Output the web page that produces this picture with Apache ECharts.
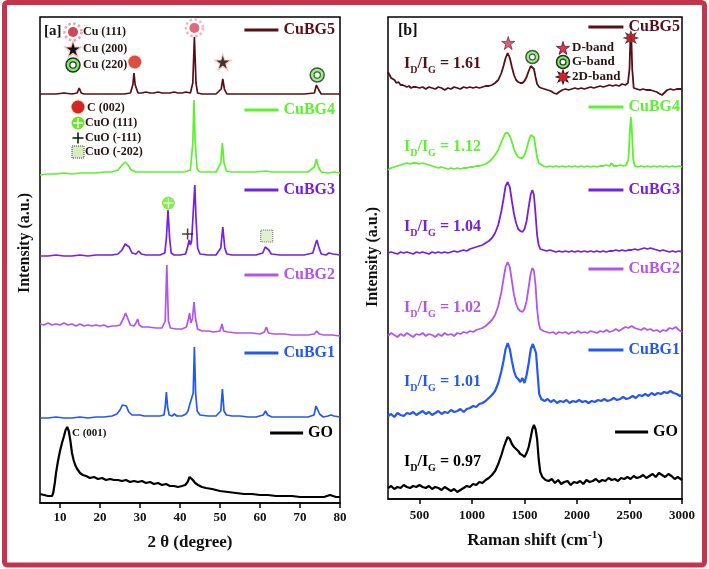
<!DOCTYPE html>
<html><head><meta charset="utf-8">
<script src="https://cdn.jsdelivr.net/npm/echarts@6/dist/echarts.min.js"></script>
<style>html,body{margin:0;padding:0;background:#fff}#c{width:709px;height:569px}</style>
</head><body><div id="c"></div>
<script>
// ---------- DATA ----------
const xrdTicks = [10,20,30,40,50,60,70,80];
const ramanTicks = [500,1000,1500,2000,2500,3000];
const sampleNames = ['CuBG5','CuBG4','CuBG3','CuBG2','CuBG1','GO'];
const ratioValues = ['1.61','1.12','1.04','1.02','1.01','0.97'];

// XRD traces (2θ, stacked intensity a.u.)
const xrdGO = [[5,9],[5.5,10],[6,8],[6.5,9],[7,7],[7.5,8],[8,7],[8.3,10],[8.7,20],[9,30],[9.5,42],[10,52],[10.5,60],[11,67],[11.4,73],[11.8,76],[12.2,72],[12.6,62],[13,50],[13.4,43],[13.8,38],[14.3,34],[15,30],[15.7,28],[16.5,27],[17.5,25],[18.5,26],[19.5,24],[20.5,25],[21.5,23],[22.5,24],[23.5,23],[24,25],[24.5,23],[25.5,22],[26.5,23],[27.5,21],[28.5,22],[29.5,21],[30.5,22],[31.5,20],[32.5,21],[33.5,19],[34.5,20],[35.5,18],[36.5,19],[37.5,17],[38.5,17],[39.5,16],[40.5,17],[41.3,18],[41.9,21],[42.4,26],[42.8,27],[43.2,23],[43.8,20],[44.5,18],[45.5,16],[46.5,15],[48,14],[50,12],[52,11],[54,10],[56,9],[58,9],[60,8],[62,8],[64,7],[66,7],[68,7],[70,6],[72,6],[74,6],[76,6],[77.5,8],[78,7],[79,6],[80,6]];
const xrdCuBG1 = [[5,85],[7,85],[9,86],[11,85],[13,85],[15,86],[17,85],[19,86],[21,86],[23,87],[24.2,89],[25,93],[25.6,98],[26.1,100],[26.6,97],[27.2,91],[28,88],[29,88],[29.5,90],[30,88],[31,87],[33,87],[35,87],[36,88],[36.3,96],[36.6,111],[36.9,96],[37.3,88],[38,87],[38.6,89],[39.2,87],[40.5,87],[41.5,89],[42,92],[42.4,98],[42.8,96],[43.3,110],[43.6,156],[43.9,110],[44.3,92],[45,88],[47,87],[49,87],[50.2,92],[50.6,114],[51,92],[51.6,88],[53,87],[55,87],[57,86],[59,86],[60.8,88],[61.4,92],[61.9,88],[63,86],[66,86],[69,86],[72,86],[73.5,88],[74,97],[74.4,97],[74.9,89],[75.8,86],[77,87],[77.7,88],[78.5,87],[80,86]];
const xrdCuBG2 = [[5,179],[6,178],[7,180],[8,178],[9,179],[10,178],[11,180],[12,178],[13,179],[14,177],[15,179],[16,177],[17,178],[18,177],[19,178],[20,177],[21,178],[22,176],[23,177],[24,177],[25,178],[25.8,184],[26.4,190],[27,184],[27.6,178],[28.5,177],[29,180],[29.4,184],[29.8,178],[30.5,176],[32,176],[34,175],[35.5,175],[36.3,182],[36.7,238],[37.1,182],[37.6,175],[39,174],[40.5,174],[41.6,176],[42.1,184],[42.4,190],[42.7,180],[43.1,184],[43.5,201],[43.9,184],[44.4,174],[45.5,172],[47,172],[48.5,171],[50,172],[50.5,179],[50.9,172],[52,171],[54,170],[56,170],[58,170],[60,169],[61.1,171],[61.6,176],[62.1,170],[63.5,169],[66,169],[68,168],[70,168],[72,168],[73.6,169],[74.2,172],[74.8,169],[76,168],[78,168],[80,167]];
const xrdCuBG3 = [[5,247],[7,247],[9,248],[11,247],[13,247],[15,248],[17,247],[19,248],[21,248],[23,248],[24.5,249],[25.5,253],[26.3,259],[26.8,261],[27.3,256],[28,250],[29,249],[29.7,252],[30.3,249],[31.5,248],[33,248],[35,248],[36.2,250],[36.6,265],[37,293],[37.4,265],[37.8,250],[38.5,248],[40,248],[41.4,249],[41.9,256],[42.3,263],[42.6,258],[42.9,262],[43.3,290],[43.7,318],[44,285],[44.4,255],[45,249],[47,248],[49,248],[50.2,255],[50.7,276],[51.2,255],[51.7,249],[53,248],[56,248],[59,248],[60.7,250],[61.3,256],[61.7,258],[62.2,253],[62.8,249],[65,248],[68,248],[71,248],[73.2,250],[73.8,258],[74.2,263],[74.7,256],[75.3,249],[76.5,248],[77.2,250],[77.7,252],[78.3,249],[80,248]];
const xrdCuBG4 = [[5,328],[7,329],[9,329],[11,330],[13,329],[15,330],[17,330],[19,330],[21,331],[23,331],[24.5,333],[25.5,338],[26.3,341],[27,338],[27.8,333],[29,331],[31,331],[33,331],[35,331],[37,331],[39,331],[41,331],[42.6,333],[43.2,360],[43.5,403],[43.8,360],[44.3,334],[45,331],[47,331],[49,331],[50.2,340],[50.6,360],[51,340],[51.6,332],[53,331],[56,331],[59,331],[61.5,332],[63,331],[66,331],[69,331],[72,331],[73.6,336],[74.1,344],[74.6,336],[75.3,331],[77,330],[78.5,331],[80,330]];
const xrdCuBG5 = [[5,409],[7,409],[9,409],[11,410],[13,409],[14.3,410],[14.8,415],[15.3,410],[16,409],[18,409],[20,409],[22,409],[24,409],[26,409],[27.6,410],[28.2,418],[28.5,430],[28.8,418],[29.5,410],[30.5,410],[31.5,411],[32,412],[32.5,410],[33.5,410],[34.5,411],[35,411],[35.5,410],[36.5,410],[37.5,410],[38,411],[38.5,411],[39.5,410],[40.5,410],[41.5,411],[42,412],[42.6,410],[43.2,420],[43.6,466],[44,420],[44.4,410],[45.5,409],[47,409],[49,409],[50.3,414],[50.7,424],[51.1,414],[51.7,409],[53,409],[56,409],[59,409],[62,409],[65,409],[68,409],[71,409],[73.6,410],[74.1,418],[74.3,420],[74.7,413],[75.3,409],[77,409],[80,409]];

// Raman traces (shift cm-1, stacked intensity a.u.)
const ramGO = [[200,11],[230,13],[260,10],[290,12],[320,11],[350,14],[380,12],[410,11],[440,13],[470,12],[500,14],[530,12],[560,11],[590,13],[620,10],[650,12],[680,11],[710,9],[740,12],[770,10],[800,8],[830,10],[860,7],[890,9],[920,11],[950,13],[980,12],[1010,15],[1040,14],[1070,17],[1100,16],[1130,19],[1160,21],[1190,24],[1220,28],[1250,35],[1280,44],[1300,51],[1320,57],[1340,62],[1360,60],[1380,55],[1400,52],[1420,50],[1440,48],[1460,45],[1480,44],[1500,42],[1520,46],[1540,52],[1560,62],[1575,70],[1590,74],[1605,70],[1620,60],[1635,40],[1650,27],[1670,22],[1700,19],[1730,18],[1760,20],[1790,16],[1820,19],[1850,15],[1880,17],[1910,18],[1940,14],[1970,17],[2000,16],[2030,18],[2060,15],[2090,19],[2120,17],[2150,18],[2180,20],[2210,17],[2240,19],[2270,18],[2300,21],[2330,19],[2360,20],[2390,18],[2420,21],[2450,20],[2480,22],[2510,20],[2540,23],[2570,21],[2600,22],[2630,24],[2660,21],[2690,23],[2720,25],[2750,22],[2780,26],[2810,24],[2840,22],[2870,25],[2900,23],[2930,20],[2960,22],[3000,19]];
const ramCuBG1 = [[200,83],[230,85],[260,82],[290,86],[320,84],[350,83],[380,86],[410,85],[440,87],[470,84],[500,86],[530,88],[560,85],[590,87],[620,84],[650,86],[680,88],[710,85],[740,87],[770,86],[800,89],[830,87],[860,88],[890,90],[920,87],[950,90],[980,91],[1010,93],[1040,92],[1070,95],[1100,96],[1130,98],[1160,101],[1190,104],[1220,108],[1250,116],[1280,128],[1300,138],[1320,150],[1340,156],[1360,150],[1380,138],[1400,128],[1420,122],[1440,120],[1460,117],[1480,121],[1500,116],[1520,124],[1540,136],[1560,150],[1580,155],[1595,154],[1610,146],[1625,125],[1640,105],[1660,100],[1690,98],[1720,100],[1750,97],[1780,99],[1810,96],[1840,98],[1870,97],[1900,99],[1930,96],[1960,98],[1990,97],[2020,99],[2050,97],[2080,98],[2110,96],[2140,98],[2170,97],[2200,99],[2230,98],[2260,100],[2290,98],[2320,99],[2350,101],[2380,99],[2410,100],[2440,102],[2470,100],[2500,101],[2530,103],[2560,101],[2590,104],[2620,103],[2650,105],[2680,103],[2710,106],[2740,104],[2770,106],[2800,105],[2830,107],[2860,106],[2890,108],[2920,106],[2950,105],[2980,103],[3000,104]];
const ramCuBG2 = [[200,163],[230,166],[260,164],[290,162],[320,165],[350,163],[380,166],[410,164],[440,162],[470,165],[500,164],[530,166],[560,163],[590,165],[620,164],[650,162],[680,165],[710,163],[740,166],[770,164],[800,165],[830,163],[860,166],[890,165],[920,167],[950,166],[980,168],[1010,167],[1040,169],[1070,170],[1100,171],[1130,173],[1160,176],[1190,179],[1220,184],[1250,193],[1280,207],[1300,220],[1320,232],[1340,237],[1360,232],[1380,218],[1400,204],[1420,195],[1440,190],[1460,188],[1480,187],[1500,190],[1520,198],[1540,212],[1560,226],[1575,231],[1590,228],[1605,214],[1620,190],[1635,176],[1650,170],[1680,168],[1710,167],[1740,166],[1770,167],[1800,165],[1830,167],[1860,166],[1890,167],[1920,165],[1950,167],[1980,166],[2010,168],[2040,166],[2070,167],[2100,166],[2130,168],[2160,167],[2190,166],[2220,168],[2250,167],[2280,169],[2310,167],[2340,168],[2370,170],[2400,168],[2430,170],[2460,172],[2490,171],[2520,173],[2550,171],[2580,170],[2610,169],[2640,171],[2670,169],[2700,170],[2730,168],[2760,169],[2790,167],[2820,169],[2850,168],[2880,171],[2910,170],[2940,172],[2970,169],[3000,167]];
const ramCuBG3 = [[200,246],[230,247],[260,246],[290,245],[320,247],[350,246],[380,247],[410,246],[440,245],[470,247],[500,246],[530,247],[560,246],[590,245],[620,247],[650,246],[680,247],[710,246],[740,247],[770,246],[800,247],[830,248],[860,247],[890,248],[920,249],[950,248],[980,250],[1010,251],[1040,252],[1070,253],[1100,254],[1130,256],[1160,258],[1190,261],[1220,266],[1250,274],[1280,288],[1300,300],[1320,313],[1340,317],[1360,312],[1380,298],[1400,285],[1420,276],[1440,270],[1460,268],[1480,267],[1500,270],[1520,278],[1540,292],[1560,305],[1575,309],[1590,304],[1605,285],[1620,264],[1635,254],[1650,250],[1680,249],[1710,248],[1740,249],[1770,248],[1800,247],[1830,248],[1860,247],[1890,248],[1920,247],[1950,248],[1980,247],[2010,248],[2040,247],[2070,248],[2100,247],[2130,248],[2160,247],[2190,248],[2220,247],[2250,248],[2280,247],[2310,248],[2340,248],[2370,249],[2400,248],[2430,249],[2460,248],[2490,249],[2520,249],[2550,250],[2580,249],[2610,250],[2640,251],[2670,250],[2700,251],[2730,250],[2760,249],[2790,248],[2820,249],[2850,248],[2880,247],[2910,248],[2940,247],[2970,248],[3000,247]];
const ramCuBG4 = [[200,329],[230,331],[260,332],[290,333],[320,334],[350,335],[380,336],[410,335],[440,336],[470,336],[500,335],[530,336],[560,335],[590,334],[620,333],[650,332],[680,331],[710,332],[740,331],[770,330],[800,331],[830,330],[860,331],[890,330],[920,331],[950,331],[980,332],[1010,332],[1040,333],[1070,333],[1100,334],[1130,335],[1160,337],[1190,340],[1220,344],[1250,349],[1280,357],[1300,362],[1320,366],[1340,366],[1360,363],[1380,357],[1400,350],[1420,345],[1440,342],[1460,341],[1480,341],[1500,344],[1520,350],[1540,358],[1560,364],[1575,366],[1590,362],[1605,352],[1620,342],[1635,336],[1650,334],[1680,333],[1710,332],[1740,333],[1770,332],[1800,333],[1830,332],[1860,333],[1890,332],[1920,333],[1950,332],[1980,333],[2010,332],[2040,333],[2070,332],[2100,333],[2130,332],[2160,333],[2190,332],[2220,333],[2250,333],[2280,334],[2310,333],[2330,336],[2350,333],[2380,333],[2410,334],[2440,333],[2470,334],[2490,340],[2505,370],[2513,382],[2522,370],[2535,340],[2550,333],[2580,332],[2610,333],[2640,332],[2670,333],[2700,332],[2730,333],[2760,332],[2790,333],[2820,332],[2850,333],[2880,332],[2910,333],[2940,332],[2970,333],[3000,332]];
const ramCuBG5 = [[200,427],[215,424],[230,421],[245,420],[262,419],[280,416],[300,417],[320,414],[340,414],[360,413],[380,412],[400,413],[420,411],[440,412],[468,412],[500,411],[530,412],[560,410],[590,412],[620,411],[650,410],[680,412],[710,411],[740,409],[770,411],[800,410],[830,412],[860,411],[890,410],[920,412],[950,411],[980,412],[1010,411],[1040,412],[1070,411],[1100,412],[1130,413],[1160,413],[1190,414],[1220,416],[1250,419],[1280,426],[1300,433],[1320,441],[1340,446],[1360,441],[1380,432],[1400,424],[1420,419],[1440,417],[1460,416],[1480,416],[1500,418],[1520,422],[1540,428],[1560,433],[1575,434],[1590,430],[1605,422],[1620,415],[1640,412],[1660,411],[1690,410],[1720,409],[1750,408],[1780,406],[1805,405],[1830,407],[1860,409],[1890,410],[1920,409],[1950,410],[1980,411],[2010,410],[2040,411],[2070,410],[2100,411],[2130,412],[2160,411],[2190,412],[2220,413],[2250,412],[2280,413],[2310,414],[2340,413],[2370,414],[2400,413],[2430,415],[2460,414],[2485,416],[2500,430],[2507,455],[2513,464],[2519,455],[2526,430],[2540,411],[2570,410],[2600,409],[2630,410],[2660,409],[2700,409],[2730,408],[2760,407],[2790,405],[2810,404],[2830,406],[2860,409],[2890,410],[2920,409],[2950,410],[2980,410],[3000,410]];

// peak markers (position, height on stacked scale)
const markCu111 = [[43.6,475]];
const markCu200 = [[50.7,441]];
const markCu220 = [[74.3,428]];
const markC002 = [[28.7,441]];
const markCuO111 = [[37.1,300]];
const markCuOm111 = [[41.9,269]];
const markCuOm202 = [[61.7,267]];
const markDband = [[1345,456]];
const markGband = [[1575,442]];
const mark2Dband = [[2513,461]];

// ---------- STYLE ----------
const FONT = 'Liberation Serif';
const colors = ['#55101c','#5cf22e','#7422dc','#b056ee','#2458ee','#000000'];
const xrdData = [xrdCuBG5,xrdCuBG4,xrdCuBG3,xrdCuBG2,xrdCuBG1,xrdGO];
const ramData = [ramCuBG5,ramCuBG4,ramCuBG3,ramCuBG2,ramCuBG1,ramGO];

const star5 = 'path://M50,2 L61,37 L98,37 L68,59 L79,95 L50,73 L21,95 L32,59 L2,37 L39,37 Z';
const star8 = 'path://M100,50 L72.2,59.2 L85.4,85.4 L59.2,72.2 L50,100 L40.8,72.2 L14.6,85.4 L27.8,59.2 L0,50 L27.8,40.8 L14.6,14.6 L40.8,27.8 L50,0 L59.2,27.8 L85.4,14.6 L72.2,40.8 Z';
const plus = 'path://M43,0 H57 V43 H100 V57 H57 V100 H43 V57 H0 V43 H43 Z';

const series = [];
xrdData.forEach((d,i)=>{
  series.push({name:sampleNames[i], type:'line', xAxisIndex:0, yAxisIndex:0, data:d, showSymbol:false, silent:true,
    itemStyle:{color:colors[i]}, lineStyle:{color:colors[i], width: i===5?2.2:1.7}});
});
ramData.forEach((d,i)=>{
  series.push({name:sampleNames[i], type:'line', xAxisIndex:1, yAxisIndex:1, data:d, showSymbol:false, silent:true,
    itemStyle:{color:colors[i]}, lineStyle:{color:colors[i], width: (i===5||i===4)?2.2:1.8}});
});

function marker(id, data, ax, layers, key){
  layers.forEach((L,j)=>{
    series.push({name:id+'_'+j, type:'scatter', xAxisIndex:ax, yAxisIndex:ax, data:data, z:5+j, silent:true,
      symbol:L.symbol, symbolSize:L.size, itemStyle:L.style,
      markPoint:{silent:true, label:{show:false}, data:[{x:key[0], y:key[1], symbol:L.symbol, symbolSize:L.size, itemStyle:L.style}]}});
  });
}
const concentric = (s)=>[{symbol:'circle', size:s, style:{color:'#86e86a', borderColor:'#223322', borderWidth:1.5}},
                          {symbol:'circle', size:s*0.45, style:{color:'#ffffff', borderColor:'#223322', borderWidth:1.2}}];
marker('cu111', markCu111, 0, [
  {symbol:'circle', size:17, style:{color:'rgba(255,255,255,0)', borderColor:'#eba2b0', borderWidth:2.5, borderType:'dotted'}},
  {symbol:'circle', size:10, style:{color:'#d4455a'}}], [73,32]);
marker('cu200', markCu200, 0, [
  {symbol:star5, size:20, style:{color:'#f5b8bc'}},
  {symbol:star5, size:13, style:{color:'#141010'}}], [73,49]);
marker('cu220', markCu220, 0, concentric(14), [73,65]);
marker('c002', markC002, 0, [
  {symbol:'circle', size:15, style:{color:'#f6ecb8'}},
  {symbol:'circle', size:13, style:{color:'#d32525'}}], [78,107]);
marker('cuo111', markCuO111, 0, [
  {symbol:'circle', size:13, style:{color:'#72e030'}},
  {symbol:plus, size:10, style:{color:'rgba(255,255,255,0.85)'}}], [78,123]);
marker('cuom111', markCuOm111, 0, [
  {symbol:plus, size:11, style:{color:'#111111'}}], [78,138]);
marker('cuom202', markCuOm202, 0, [
  {symbol:'rect', size:12, style:{color:'#d8eec2', borderColor:'#444', borderWidth:1, borderType:'dotted'}}], [78,152]);
marker('dband', markDband, 1, [
  {symbol:star5, size:13, style:{color:'#d23a58', borderColor:'#5a1020', borderWidth:0.8}}], [563,48]);
marker('gband', markGband, 1, concentric(13), [563,62]);
marker('band2d', mark2Dband, 1, [
  {symbol:star8, size:17, style:{color:'#1a1a1a'}},
  {symbol:'circle', size:9, style:{color:'#d0202a'}}], [563,77]);

function legendFor(i, right, yc, w){
  return {data:[sampleNames[i]], right:right, top:yc-8, padding:0, itemWidth:w, itemHeight:3, icon:'rect',
    selectedMode:false, textStyle:{fontFamily:FONT, fontWeight:'bold', fontSize:16, lineHeight:16, color:colors[i]}};
}
const legends = [];
[30,110,190,275,353,433].forEach((y,i)=>legends.push(legendFor(i, i===5?376:374, y, i===5?33:34)));
[27,107,190,269,350,432].forEach((y,i)=>legends.push(legendFor(i, i===5?31:29, y, i===5?33:35)));

const graphic = [
  {type:'rect', shape:{x:4.5,y:2.5,width:700,height:562.5,r:3}, style:{fill:'none', stroke:'#c3344f', lineWidth:5}, z:100},
  {type:'text', x:44, y:31, style:{text:'[a]', font:'bold 15px '+FONT, fill:'#111', verticalAlign:'middle'}},
  {type:'text', x:398, y:31, style:{text:'[b]', font:'bold 16px '+FONT, fill:'#111', verticalAlign:'middle'}},
  {type:'text', x:25, y:243, rotation:Math.PI/2, style:{text:'Intensity (a.u.)', font:'bold 16px '+FONT, fill:'#111', align:'center', verticalAlign:'middle'}},
  {type:'text', x:373, y:257, rotation:Math.PI/2, style:{text:'Intensity (a.u.)', font:'bold 16px '+FONT, fill:'#111', align:'center', verticalAlign:'middle'}},
  {type:'text', x:72, y:433, style:{text:'C (001)', font:'bold 11px '+FONT, fill:'#111', verticalAlign:'middle'}},
];
[['Cu (111)',83,32],['Cu (200)',83,49],['Cu (220)',83,65],['C (002)',87,108],['CuO (111)',85,123],['CuO (-111)',85,138],['CuO (-202)',85,152]]
 .forEach(t=>graphic.push({type:'text', x:t[1], y:t[2], style:{text:t[0], font:'bold 12px '+FONT, fill:'#2a1515', verticalAlign:'middle'}}));
[['D-band',572,48],['G-band',572,62],['2D-band',572,77]]
 .forEach(t=>graphic.push({type:'text', x:t[1], y:t[2], style:{text:t[0], font:'bold 13px '+FONT, fill:'#2a1515', verticalAlign:'middle'}}));
[64,147,227,308,382,462].forEach((y,i)=>{
  const n = {fontFamily:FONT, fontWeight:'bold', fontSize:16, lineHeight:22, fill:colors[i]};
  const s = {fontFamily:FONT, fontWeight:'bold', fontSize:10, lineHeight:10, verticalAlign:'bottom', fill:colors[i]};
  graphic.push({type:'text', x:404, y:y, style:{text:'{n|I}{s|D}{n|/I}{s|G}{n| = '+ratioValues[i]+'}', rich:{n:n, s:s}, verticalAlign:'middle', fill:colors[i]}});
});

const axisCommon = {
  axisLine:{show:true, lineStyle:{color:'#000', width:1.5}},
  axisTick:{show:true, inside:false, length:5, lineStyle:{color:'#000', width:1.5}},
  splitLine:{show:false},
  nameLocation:'middle',
};
const option = {
  animation:false,
  backgroundColor:'#fff',
  grid:[
    {left:40, top:17, width:300, height:486, show:true, borderColor:'#000', borderWidth:1.5, backgroundColor:'transparent'},
    {left:388, top:17, width:294, height:482, show:true, borderColor:'#000', borderWidth:1.5, backgroundColor:'transparent'}
  ],
  xAxis:[
    Object.assign({}, axisCommon, {gridIndex:0, type:'value', min:5, max:80, name:'2 θ (degree)', nameGap:31,
      nameTextStyle:{fontFamily:FONT, fontWeight:'bold', fontSize:17, color:'#111'},
      axisTick:Object.assign({}, axisCommon.axisTick, {customValues:xrdTicks}),
      axisLabel:{customValues:xrdTicks, formatter:v=>String(v), margin:8, fontFamily:FONT, fontWeight:'bold', fontSize:13, color:'#111'}}),
    Object.assign({}, axisCommon, {gridIndex:1, type:'value', min:200, max:3000, name:'Raman shift (cm{sup|-1})', nameGap:31,
      nameTextStyle:{fontFamily:FONT, fontWeight:'bold', fontSize:17, color:'#111', lineHeight:22,
        rich:{sup:{fontFamily:FONT, fontWeight:'bold', fontSize:11, lineHeight:11, verticalAlign:'top', color:'#111'}}},
      axisTick:Object.assign({}, axisCommon.axisTick, {customValues:ramanTicks}),
      axisLabel:{customValues:ramanTicks, formatter:v=>String(v), margin:10, fontFamily:FONT, fontWeight:'bold', fontSize:13, color:'#111'}})
  ],
  yAxis:[
    {gridIndex:0, type:'value', min:0, max:486, axisLine:{show:false}, axisTick:{show:false}, axisLabel:{show:false}, splitLine:{show:false}},
    {gridIndex:1, type:'value', min:0, max:482, axisLine:{show:false}, axisTick:{show:false}, axisLabel:{show:false}, splitLine:{show:false}}
  ],
  legend:legends,
  series:series,
  graphic:graphic
};
const chart = echarts.init(document.getElementById('c'), null, {renderer:'canvas'});
chart.setOption(option);
</script>
</body></html>
